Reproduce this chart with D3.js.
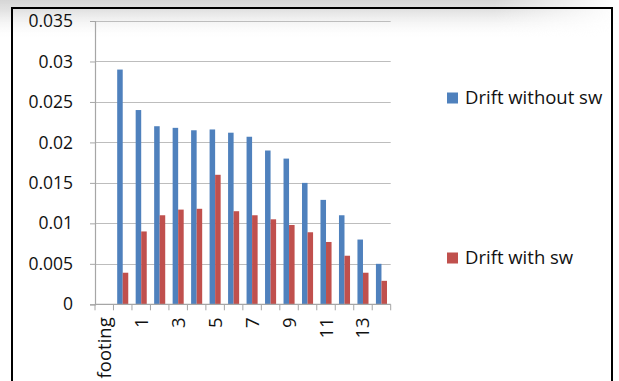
<!DOCTYPE html>
<html>
<head>
<meta charset="utf-8">
<script src="https://cdn.jsdelivr.net/npm/d3@7"></script>
<style>
  html, body { margin: 0; padding: 0; background: #ffffff; }
  svg { display: block; }
  text { font-family: "Open Sans", "Noto Sans", sans-serif; fill: #111; }
</style>
</head>
<body>
<svg id="chart" width="619" height="381"></svg>
<script>
// Storey labels (only every other one is printed on the axis)
const categories = ["footing", "0", "1", "2", "3", "4", "5", "6", "7", "8", "9", "10", "11", "12", "13", "14"];
// Inter-storey drift, frame without shear wall
const driftWithoutSw = [null, 0.029, 0.024, 0.022, 0.0218, 0.0215, 0.0216, 0.0212, 0.0207, 0.019, 0.018, 0.015, 0.0129, 0.011, 0.008, 0.005];
// Inter-storey drift, frame with shear wall
const driftWithSw = [null, 0.0039, 0.009, 0.011, 0.0117, 0.0118, 0.016, 0.0115, 0.011, 0.0105, 0.0098, 0.0089, 0.0077, 0.006, 0.0039, 0.0029];
const yTickValues = [0, 0.005, 0.01, 0.015, 0.02, 0.025, 0.03, 0.035];
const yTickLabels = ["0", "0.005", "0.01", "0.015", "0.02", "0.025", "0.03", "0.035"];
const seriesNames = ["Drift without sw", "Drift with sw"];
const seriesColors = ["#4f81bd", "#c0504d"];

const svg = d3.select("#chart");

// soft grey shading along the top edge
const defs = svg.append("defs");
const topFade = defs.append("linearGradient").attr("id", "topFade")
  .attr("x1", 0).attr("y1", 0).attr("x2", 0).attr("y2", 1);
topFade.append("stop").attr("offset", 0).attr("stop-color", "#d6d6d6").attr("stop-opacity", 1);
topFade.append("stop").attr("offset", 0.3).attr("stop-color", "#e2e2e2").attr("stop-opacity", 0.9);
topFade.append("stop").attr("offset", 1).attr("stop-color", "#ffffff").attr("stop-opacity", 0);
const sideFade = defs.append("linearGradient").attr("id", "sideFade")
  .attr("x1", 0).attr("y1", 0).attr("x2", 1).attr("y2", 0);
sideFade.append("stop").attr("offset", 0).attr("stop-color", "#fff").attr("stop-opacity", 1);
sideFade.append("stop").attr("offset", 0.8).attr("stop-color", "#fff").attr("stop-opacity", 1);
sideFade.append("stop").attr("offset", 1).attr("stop-color", "#fff").attr("stop-opacity", 0);
const fadeMask = defs.append("mask").attr("id", "fadeMask");
fadeMask.append("rect").attr("x", 0).attr("y", 0).attr("width", 619).attr("height", 60).attr("fill", "url(#sideFade)");

svg.append("rect").attr("x", 0).attr("y", 0).attr("width", 619).attr("height", 40)
  .attr("fill", "url(#topFade)").attr("mask", "url(#fadeMask)");

const plotLeft = 95, plotRight = 390.7, plotTop = 21, plotBottom = 304.3;

const x = d3.scaleBand().domain(categories).range([plotLeft, plotRight]).paddingInner(0).paddingOuter(0);
const xs = d3.scaleBand().domain(seriesNames).range([0, x.bandwidth()]).paddingInner(0).paddingOuter(0.67);
const y = d3.scaleLinear().domain([0, 0.035]).range([plotBottom, plotTop]);

// horizontal gridlines
svg.append("g").selectAll("line").data(yTickValues.slice(1)).join("line")
  .attr("x1", plotLeft).attr("x2", plotRight)
  .attr("y1", d => Math.round(y(d)) + 0.5).attr("y2", d => Math.round(y(d)) + 0.5)
  .attr("stroke", "#bdbdbd").attr("stroke-width", 1.2);

// bars
const groups = [driftWithoutSw, driftWithSw];
groups.forEach((vals, si) => {
  svg.append("g").selectAll("rect")
    .data(categories.map((c, i) => ({ c, v: vals[i] })).filter(d => d.v != null))
    .join("rect")
    .attr("x", d => x(d.c) + xs(seriesNames[si]))
    .attr("width", xs.bandwidth())
    .attr("y", d => y(d.v))
    .attr("height", d => y(0) - y(d.v))
    .attr("fill", seriesColors[si]);
});

// y axis
const yAxis = d3.axisLeft(y).tickValues(yTickValues)
  .tickFormat((d, i) => yTickLabels[i]).tickSize(5).tickPadding(17);
const gy = svg.append("g").attr("transform", `translate(${plotLeft},0)`).call(yAxis);
gy.select(".domain").attr("stroke", "#a6a6a6").attr("stroke-width", 1.2);
gy.selectAll(".tick line").attr("stroke", "#a6a6a6");
gy.selectAll(".tick text").style("font-size", "17.5px").style("font-family", "'Open Sans', sans-serif").attr("fill", "#111");

// x axis: tick marks on band boundaries, labels every other category
const boundaries = categories.map(c => x(c)).concat([x.range()[1]]);
const gx = svg.append("g").attr("transform", `translate(0,${plotBottom})`);
gx.append("line").attr("x1", plotLeft).attr("x2", plotRight).attr("y1", 0).attr("y2", 0)
  .attr("stroke", "#a6a6a6").attr("stroke-width", 1.2);
gx.selectAll("line.tk").data(boundaries).join("line").attr("class", "tk")
  .attr("x1", d => d).attr("x2", d => d).attr("y1", 0).attr("y2", 6)
  .attr("stroke", "#a6a6a6");
gx.selectAll("text").data(categories.filter((c, i) => i % 2 === 0)).join("text")
  .attr("transform", d => `translate(${x(d) + x.bandwidth() / 2},13) rotate(-90)`)
  .attr("text-anchor", "end").attr("dy", "0.35em")
  .style("font-size", "18.5px")
  .text(d => d);

// legend
const legendY = [98, 258];
seriesNames.forEach((name, i) => {
  const g = svg.append("g").attr("transform", `translate(447,${legendY[i]})`);
  g.append("rect").attr("x", 0).attr("y", -5.5).attr("width", 11).attr("height", 11).attr("fill", seriesColors[i]);
  g.append("text").attr("x", 18).attr("y", 0).attr("dy", "0.35em").style("font-size", "18.5px").text(name);
});

// chart frame
svg.append("rect").attr("x", 12).attr("y", 8).attr("width", 600).attr("height", 400)
  .attr("fill", "none").attr("stroke", "#000").attr("stroke-width", 2);
</script>
</body>
</html>
